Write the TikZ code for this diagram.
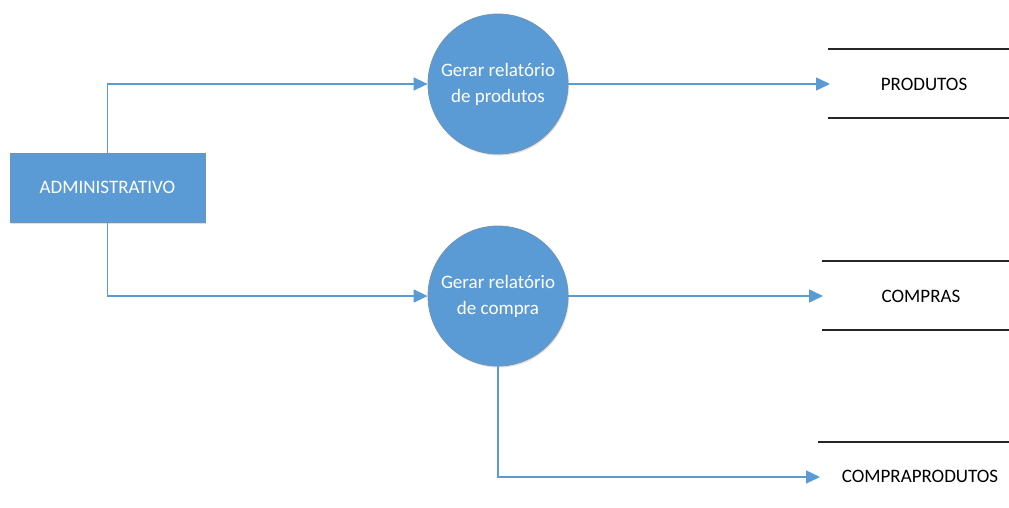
\documentclass[tikz,border=0pt]{standalone}
\usepackage{fontspec}
\setmainfont{Carlito}
\usetikzlibrary{arrows.meta,shadows}
\definecolor{blu}{HTML}{5B9BD5}
\definecolor{bluedge}{HTML}{7F8FA0}
\begin{document}
\begin{tikzpicture}[x=1pt,y=-1pt,
  proc/.style={circle,fill=blu,draw=bluedge!60!blu,line width=0.8pt,minimum size=140pt,inner sep=0pt,text=white,align=center,font=\fontsize{19}{26}\selectfont,drop shadow={shadow xshift=1pt,shadow yshift=-1.5pt,opacity=0.25}},
  ext/.style={rectangle,fill=blu,draw=bluedge!60!blu,line width=0.8pt,minimum width=195pt,minimum height=69pt,inner sep=0pt,text=white,font=\fontsize{19}{23}\selectfont,drop shadow={shadow xshift=1pt,shadow yshift=-1.5pt,opacity=0.25}},
  storetxt/.style={font=\fontsize{19}{23}\selectfont,text=black,inner sep=0pt},
  storeline/.style={line width=1.6pt,draw=black!85},
  flow/.style={draw=blu,line width=1.6pt,-{Triangle[length=14pt,width=13pt]}}]
\useasboundingbox (0,0) rectangle (1009,507);
\node[ext] (adm) at (107.5,187.5) {ADMINISTRATIVO};
\node[proc] (p1) at (498,84) {Gerar relatório\\de produtos};
\node[proc] (p2) at (498,296) {Gerar relatório\\de compra};
% stores
\coordinate (s1a) at (828,49); \coordinate (s1b) at (1009,49);
\coordinate (s1c) at (828,118); \coordinate (s1d) at (1009,118);
\draw[storeline] (s1a) -- (s1b); \draw[storeline] (s1c) -- (s1d);
\node[storetxt] (s1) at (924,84) {PRODUTOS};
\coordinate (s2a) at (822,261); \coordinate (s2b) at (1009,261);
\coordinate (s2c) at (822,330); \coordinate (s2d) at (1009,330);
\draw[storeline] (s2a) -- (s2b); \draw[storeline] (s2c) -- (s2d);
\node[storetxt] (s2) at (921,296) {COMPRAS};
\coordinate (s3a) at (818,442); \coordinate (s3b) at (1009,442);
\draw[storeline] (s3a) -- (s3b);
\node[storetxt] (s3) at (920,476) {COMPRAPRODUTOS};
% flows
\coordinate (e1) at (830,84);
\coordinate (e2) at (823,296);
\coordinate (e3) at (820,477);
\draw[flow] (adm.north) |- (p1.west);
\draw[flow] (adm.south) |- (p2.west);
\draw[flow] (p1.east) -- (e1);
\draw[flow] (p2.east) -- (e2);
\draw[flow] (p2.south) |- (e3);
\end{tikzpicture}
\end{document}
